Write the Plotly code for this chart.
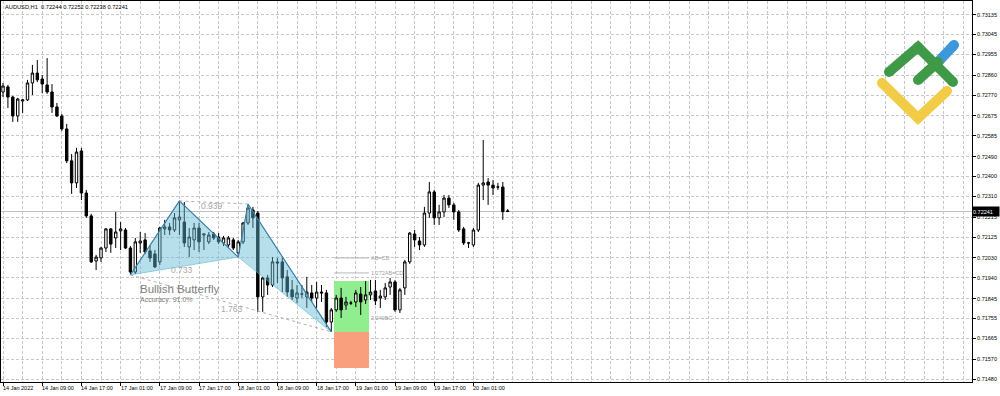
import plotly.graph_objects as go

# ---------------- data ----------------
bars = list(range(104))

open_ = [0.72784, 0.72807, 0.72761, 0.72675, 0.72743, 0.72748, 0.72825, 0.72870, 0.72843, 0.72816,
         0.72784, 0.72716, 0.72675, 0.72616, 0.72471, 0.72371, 0.72516, 0.72325, 0.72221, 0.72016,
         0.72030, 0.72075, 0.72162, 0.72121, 0.72153, 0.72157, 0.72075, 0.71966, 0.72098, 0.72112,
         0.72062, 0.72048, 0.72012, 0.72162, 0.72171, 0.72157, 0.72203, 0.72193, 0.72080, 0.72112,
         0.72166, 0.72134, 0.72103, 0.72139, 0.72125, 0.72098, 0.72089, 0.72112, 0.72053, 0.72103,
         0.72189, 0.72248, 0.72234, 0.71853, 0.71939, 0.71907, 0.72012, 0.72012, 0.71944, 0.71885,
         0.71848, 0.71866, 0.71853, 0.71871, 0.71848, 0.71875, 0.71871, 0.71739, 0.71794, 0.71848,
         0.71816, 0.71825, 0.71830, 0.71866, 0.71839, 0.71862, 0.71880, 0.71848, 0.71853, 0.71898,
         0.71921, 0.71794, 0.71894, 0.72012, 0.72139, 0.72107, 0.72089, 0.72234, 0.72330, 0.72212,
         0.72239, 0.72302, 0.72271, 0.72239, 0.72162, 0.72098, 0.72089, 0.72157, 0.72361, 0.72375,
         0.72361, 0.72352, 0.72352, 0.72244]

high = [0.72825, 0.72816, 0.72766, 0.72757, 0.72752, 0.72839, 0.72907, 0.72929, 0.72861, 0.72938,
        0.72820, 0.72734, 0.72684, 0.72639, 0.72502, 0.72530, 0.72530, 0.72339, 0.72230, 0.72044,
        0.72080, 0.72166, 0.72166, 0.72239, 0.72193, 0.72166, 0.72084, 0.72121, 0.72148, 0.72143,
        0.72089, 0.72066, 0.72171, 0.72203, 0.72189, 0.72234, 0.72289, 0.72284, 0.72166, 0.72189,
        0.72189, 0.72139, 0.72148, 0.72148, 0.72143, 0.72130, 0.72130, 0.72121, 0.72112, 0.72193,
        0.72275, 0.72262, 0.72243, 0.71944, 0.71953, 0.72034, 0.72030, 0.72030, 0.71975, 0.71930,
        0.71907, 0.71907, 0.71944, 0.71907, 0.71921, 0.71907, 0.71885, 0.71803, 0.71862, 0.71894,
        0.71853, 0.71835, 0.71885, 0.71898, 0.71925, 0.71930, 0.71930, 0.71885, 0.71916, 0.71939,
        0.71930, 0.71894, 0.72021, 0.72148, 0.72157, 0.72125, 0.72262, 0.72375, 0.72339, 0.72271,
        0.72316, 0.72316, 0.72280, 0.72248, 0.72171, 0.72103, 0.72166, 0.72371, 0.72566, 0.72393,
        0.72384, 0.72371, 0.72375, 0.72252]

low = [0.72761, 0.72711, 0.72648, 0.72648, 0.72689, 0.72743, 0.72770, 0.72829, 0.72779, 0.72775,
       0.72689, 0.72670, 0.72607, 0.72461, 0.72321, 0.72348, 0.72293, 0.72212, 0.72007, 0.71975,
       0.72012, 0.72057, 0.72053, 0.72075, 0.72066, 0.72071, 0.71953, 0.71957, 0.72053, 0.72048,
       0.72012, 0.71984, 0.71998, 0.72134, 0.72134, 0.72148, 0.72134, 0.72080, 0.72034, 0.72066,
       0.72057, 0.72066, 0.72093, 0.72112, 0.72093, 0.72084, 0.72075, 0.72066, 0.72034, 0.72093,
       0.72180, 0.72166, 0.71785, 0.71785, 0.71862, 0.71898, 0.71916, 0.71875, 0.71853, 0.71839,
       0.71825, 0.71848, 0.71803, 0.71830, 0.71803, 0.71830, 0.71716, 0.71694, 0.71785, 0.71757,
       0.71794, 0.71816, 0.71807, 0.71771, 0.71821, 0.71839, 0.71816, 0.71803, 0.71839, 0.71862,
       0.71785, 0.71780, 0.71862, 0.72003, 0.72080, 0.72066, 0.72080, 0.72212, 0.72180, 0.72180,
       0.72216, 0.72257, 0.72203, 0.72148, 0.72089, 0.72075, 0.72080, 0.72148, 0.72293, 0.72271,
       0.72316, 0.72339, 0.72203, 0.72238]

close = [0.72811, 0.72761, 0.72675, 0.72752, 0.72748, 0.72825, 0.72870, 0.72839, 0.72820, 0.72784,
         0.72716, 0.72675, 0.72616, 0.72471, 0.72371, 0.72511, 0.72325, 0.72221, 0.72012, 0.72034,
         0.72075, 0.72162, 0.72093, 0.72148, 0.72162, 0.72075, 0.71966, 0.72103, 0.72107, 0.72057,
         0.72030, 0.71989, 0.72166, 0.72171, 0.72157, 0.72212, 0.72216, 0.72098, 0.72125, 0.72166,
         0.72103, 0.72139, 0.72134, 0.72121, 0.72103, 0.72121, 0.72121, 0.72075, 0.72103, 0.72189,
         0.72257, 0.72212, 0.71853, 0.71939, 0.71907, 0.72012, 0.72007, 0.71939, 0.71875, 0.71853,
         0.71871, 0.71866, 0.71875, 0.71848, 0.71875, 0.71871, 0.71739, 0.71794, 0.71848, 0.71794,
         0.71830, 0.71825, 0.71871, 0.71830, 0.71862, 0.71875, 0.71835, 0.71857, 0.71894, 0.71921,
         0.71794, 0.71885, 0.72012, 0.72143, 0.72112, 0.72089, 0.72234, 0.72330, 0.72212, 0.72239,
         0.72302, 0.72271, 0.72239, 0.72157, 0.72098, 0.72098, 0.72157, 0.72361, 0.72371, 0.72361,
         0.72348, 0.72352, 0.72240, 0.72241]

time_label_bars = [0, 8, 16, 24, 32, 40, 48, 56, 64, 72, 80, 88, 96]
time_labels = ["14 Jan 2022", "14 Jan 09:00", "14 Jan 17:00", "17 Jan 01:00", "17 Jan 09:00",
               "17 Jan 17:00", "18 Jan 01:00", "18 Jan 09:00", "18 Jan 17:00", "19 Jan 01:00",
               "19 Jan 09:00", "19 Jan 17:00", "20 Jan 01:00"]

price_labels = ["0.73135", "0.73045", "0.72955", "0.72860", "0.72770", "0.72675", "0.72585",
                "0.72490", "0.72400", "0.72310", "0.72215", "0.72125", "0.72030", "0.71940",
                "0.71845", "0.71755", "0.71665", "0.71570", "0.71480"]
price_ticks = [float(s) for s in price_labels]

current_price = 0.72241
header = "AUDUSD,H1  0.72244 0.72252 0.72238 0.72241"

# harmonic pattern X, A, B, C, D
pattern_bars = [26, 36, 48, 50, 67]
pattern_prices = [0.71953, 0.72289, 0.72034, 0.72275, 0.71694]
ratio_text = ["0.733", "0.939", "1.763"]
ratio_x = [36.6, 42.65, 46.7]
ratio_y = [0.71975, 0.72266, 0.71800]

zone_x = [67.55, 74.7]
green_zone = [0.71694, 0.71925]
red_zone = [0.71530, 0.71694]
level_names = ["AB=CD", "1.272AB=CD", "2.240BC"]
level_prices = [0.72030, 0.71962, 0.71757]

# ---------------- figure ----------------
fig = go.Figure()

Xb, Ab, Bb, Cb, Db = pattern_bars
Xp, Ap, Bp, Cp, Dp = pattern_prices
fill_col = "rgba(95,185,210,0.45)"
edge_col = "#3a7ca5"

fig.add_trace(go.Scatter(x=[Xb, Ab, Bb, Xb], y=[Xp, Ap, Bp, Xp], fill="toself",
                         fillcolor=fill_col, mode="lines",
                         line=dict(color="rgba(95,185,210,0.6)", width=1), hoverinfo="skip"))
fig.add_trace(go.Scatter(x=[Bb, Cb, Db, Bb], y=[Bp, Cp, Dp, Bp], fill="toself",
                         fillcolor=fill_col, mode="lines",
                         line=dict(color="rgba(95,185,210,0.6)", width=1), hoverinfo="skip"))
fig.add_trace(go.Scatter(x=[Xb, Ab, Bb], y=[Xp, Ap, Bp], mode="lines",
                         line=dict(color=edge_col, width=1.1), hoverinfo="skip"))
fig.add_trace(go.Scatter(x=[Bb, Cb, Db], y=[Bp, Cp, Dp], mode="lines",
                         line=dict(color=edge_col, width=1.1), hoverinfo="skip"))
# dotted ratio lines
fig.add_trace(go.Scatter(x=[Ab, Cb], y=[Ap, Cp], mode="lines",
                         line=dict(color="#b0b0b0", width=1, dash="dot"), hoverinfo="skip"))
fig.add_trace(go.Scatter(x=[Xb, Db], y=[Xp, Dp], mode="lines",
                         line=dict(color="#b0b0b0", width=1, dash="dot"), hoverinfo="skip"))

fig.add_trace(go.Candlestick(
    x=bars, open=open_, high=high, low=low, close=close,
    increasing=dict(line=dict(color="black", width=1), fillcolor="white"),
    decreasing=dict(line=dict(color="black", width=1), fillcolor="black"),
    whiskerwidth=0, hoverinfo="skip"))

# logo (image-pixel coordinates on hidden overlay axes)
logo_strokes = [
    ("#3d98db", [938, 954], [62, 45]),
    ("#f2cc46", [882, 918, 947], [83, 118, 91]),
    ("#3f9a48", [889, 918, 953], [72, 47, 82]),
    ("#3f9a48", [918, 938], [80, 62]),
]
for col, lx, ly in logo_strokes:
    fig.add_trace(go.Scatter(x=lx, y=ly, xaxis="x2", yaxis="y2", mode="lines+markers",
                             line=dict(color=col, width=10),
                             marker=dict(color=col, size=10), hoverinfo="skip"))

shapes = []
shapes.append(dict(type="line", xref="paper", x0=0, x1=1, yref="y", y0=current_price,
                   y1=current_price, line=dict(color="#c0c0c0", width=1), layer="between"))
shapes.append(dict(type="rect", xref="x", yref="y", x0=zone_x[0], x1=zone_x[1],
                   y0=green_zone[0], y1=green_zone[1], fillcolor="#90ee90",
                   line=dict(width=0), layer="between"))
shapes.append(dict(type="rect", xref="x", yref="y", x0=zone_x[0], x1=zone_x[1],
                   y0=red_zone[0], y1=red_zone[1], fillcolor="#fa9f7e",
                   line=dict(width=0), layer="between"))
for lp in level_prices[:2]:
    shapes.append(dict(type="line", xref="x", yref="y", x0=zone_x[0], x1=zone_x[1],
                       y0=lp, y1=lp, line=dict(color="#b8b8b8", width=1), layer="between"))

annotations = []
for b, t in zip(time_label_bars, time_labels):
    annotations.append(dict(x=b, xref="x", y=0, yref="paper", yanchor="top", xanchor="left",
                            text=t, showarrow=False, yshift=-1, xshift=-2,
                            font=dict(size=5.5, color="black")))
for name, lp in zip(level_names, level_prices):
    annotations.append(dict(x=zone_x[1], xref="x", y=lp, yref="y", xanchor="left",
                            yanchor="middle", text=name, showarrow=False,
                            font=dict(size=5.5, color="#a0a0a0")))
for t, rx, ry in zip(ratio_text, ratio_x, ratio_y):
    annotations.append(dict(x=rx, xref="x", y=ry, yref="y", text=t, showarrow=False,
                            font=dict(size=8.5, color="#a8a8a8")))
annotations.append(dict(x=27.55, xref="x", y=0.71887, yref="y", xanchor="left",
                        text="Bullish Butterfly", showarrow=False,
                        font=dict(size=11.5, color="#808080")))
annotations.append(dict(x=27.55, xref="x", y=0.71839, yref="y", xanchor="left",
                        text="Accuracy: 91.0%", showarrow=False,
                        font=dict(size=7, color="#808080")))
annotations.append(dict(x=0, xref="paper", y=1, yref="paper", xanchor="left", yanchor="top",
                        text=header, showarrow=False, xshift=2, yshift=-1,
                        font=dict(size=5.7, color="black")))
annotations.append(dict(x=1, xref="paper", y=current_price, yref="y", xanchor="left",
                        yanchor="middle", text="0.72241", showarrow=False, bgcolor="black",
                        width=26, height=9, align="left", borderpad=0,
                        font=dict(size=5.5, color="white")))

grid_col = "#c8c8c8"
fig.update_layout(
    width=1000, height=396, margin=dict(l=1, r=28, t=1, b=14),
    paper_bgcolor="white", plot_bgcolor="white", showlegend=False,
    font=dict(family="Liberation Sans, Arial, sans-serif", size=6, color="black"),
    shapes=shapes, annotations=annotations,
    xaxis=dict(range=[-0.41, 197.75], rangeslider=dict(visible=False),
               tickmode="array", tickvals=time_label_bars, showticklabels=False,
               ticks="outside", ticklen=3, tickcolor="black",
               showgrid=True, gridcolor=grid_col, griddash="3px,2px", gridwidth=1,
               minor=dict(tickmode="linear", tick0=0, dtick=4, showgrid=True,
                          gridcolor=grid_col, griddash="3px,2px", ticks=""),
               showline=True, linecolor="black", linewidth=1, mirror=True, zeroline=False),
    yaxis=dict(range=[0.714664, 0.731973], side="right", tickmode="array",
               tickvals=price_ticks, ticktext=price_labels, ticks="outside", ticklen=3,
               tickcolor="black", tickfont=dict(size=5.5),
               showgrid=True, gridcolor=grid_col, griddash="3px,2px", gridwidth=1,
               showline=True, linecolor="black", linewidth=1, mirror=True, zeroline=False),
    xaxis2=dict(overlaying="x", range=[1, 972], visible=False),
    yaxis2=dict(overlaying="y", range=[382, 1], visible=False),
)

fig.write_html("out.html")
